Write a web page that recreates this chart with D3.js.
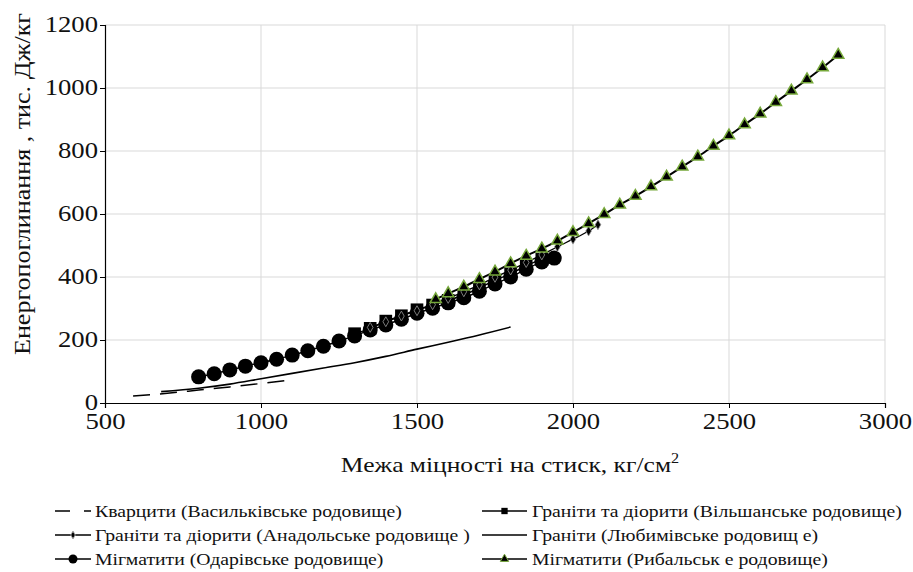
<!DOCTYPE html>
<html>
<head>
<meta charset="utf-8">
<script src="https://cdn.jsdelivr.net/npm/d3@7"></script>
</head>
<body style="margin:0; background:#fff">
<div id="container"></div>
<script>
// ------ Data ------
const xTicks = [500, 1000, 1500, 2000, 2500, 3000];
const yTicks = [0, 200, 400, 600, 800, 1000, 1200];

// Кварцити (Васильківське родовище)
const kvarcX = [590, 700, 800, 900, 1000, 1100];
const kvarcY = [22, 31, 41, 51, 62, 74];

// Граніти (Любимівське родовище)
const lubX = [680, 800, 900, 1000, 1100, 1200, 1300, 1400, 1500, 1600, 1700, 1800];
const lubY = [36, 47, 60, 77, 94, 111, 128, 148, 171, 193, 216, 241];

// Граніти та діорити (Вільшанське родовище)
const vilX = [1300, 1350, 1400, 1450, 1500, 1550, 1600, 1650, 1700, 1750, 1800, 1850, 1900];
const vilY = [220, 237, 260, 277, 296, 311, 326, 343, 365, 390, 410, 436, 456];

// Граніти та діорити (Анадольське родовище)
const anaX = [1350, 1400, 1450, 1500, 1550, 1600, 1650, 1700, 1750, 1800, 1850, 1900, 1950, 2000, 2050, 2080];
const anaY = [240, 258, 276, 293, 312, 332, 353, 375, 399, 422, 446, 470, 496, 520, 546, 566];

// Мігматити (Одарівське родовище)
const odaX = [800, 850, 900, 950, 1000, 1050, 1100, 1150, 1200, 1250, 1300, 1350, 1400, 1450, 1500, 1550, 1600, 1650, 1700, 1750, 1800, 1850, 1900, 1940];
const odaY = [83, 93, 105, 117, 128, 139, 152, 166, 180, 197, 213, 232, 248, 266, 285, 301, 318, 334, 355, 378, 400, 425, 448, 460];

// Мігматити (Рибальське родовище)
const rybX = [1560, 1600, 1650, 1700, 1750, 1800, 1850, 1900, 1950, 2000, 2050, 2100, 2150, 2200, 2250, 2300, 2350, 2400, 2450, 2500, 2550, 2600, 2650, 2700, 2750, 2800, 2850];
const rybY = [329, 348, 369, 393, 417, 443, 467, 490, 515, 542, 570, 599, 629, 657, 687, 718, 750, 782, 816, 849, 884, 918, 955, 991, 1027, 1065, 1105];

const legendNames = [
  "Кварцити (Васильківське родовище)",
  "Граніти та діорити (Вільшанське родовище)",
  "Граніти та діорити (Анадольське родовище )",
  "Граніти (Любимівське родовищ е)",
  "Мігматити (Одарівське родовище)",
  "Мігматити (Рибальськ е родовище)"
];

// ------ Setup ------
const width = 913, height = 572;
const FONT = 'Liberation Serif';
const STRETCH = 1.16;   // the original text is a bit wide
const svg = d3.select('#container').append('svg')
  .attr('width', width)
  .attr('height', height);

const x = d3.scaleLinear().domain([500, 3000]).range([105, 885]);
const y = d3.scaleLinear().domain([0, 1200]).range([403, 25]);

const zip = (xs, ys) => xs.map((v, i) => [v, ys[i]]);

// grid
svg.append('g').selectAll('line').data(yTicks.slice(1)).enter().append('line')
  .attr('x1', x(500)).attr('x2', x(3000))
  .attr('y1', d => y(d)).attr('y2', d => y(d))
  .attr('stroke', '#d9d9d9').attr('stroke-width', 1);
svg.append('g').selectAll('line').data(xTicks.slice(1)).enter().append('line')
  .attr('x1', d => x(d)).attr('x2', d => x(d))
  .attr('y1', y(0)).attr('y2', y(1200))
  .attr('stroke', '#d9d9d9').attr('stroke-width', 1);

// axes
const xAxis = svg.append('g')
  .attr('transform', `translate(0,${y(0)})`)
  .call(d3.axisBottom(x).tickValues(xTicks).tickSize(5).tickFormat(d3.format('d')));
const yAxis = svg.append('g')
  .attr('transform', `translate(${x(500)},0)`)
  .call(d3.axisLeft(y).tickValues(yTicks).tickSize(5).tickFormat(d3.format('d')));
[xAxis, yAxis].forEach(a => {
  a.select('.domain').attr('stroke', '#000').attr('stroke-width', 1.2);
  a.selectAll('.tick line').attr('stroke', '#000');
  a.selectAll('text').attr('font-size', 23).attr('fill', '#111')
    .attr('transform', `scale(${STRETCH},1)`);
});
xAxis.selectAll('text').attr('dy', '0.8em');
yAxis.selectAll('text').attr('x', -7 / STRETCH).attr('dy', '0.3em');

// axis titles
const xt = svg.append('text')
  .attr('transform', `translate(510,472) scale(${STRETCH},1)`)
  .attr('text-anchor', 'middle')
  .attr('font-size', 22).attr('fill', '#111');
xt.append('tspan').text('Межа міцності  на стиск, кг/см');
xt.append('tspan').attr('dy', -9).attr('font-size', 14).text('2');

svg.append('text')
  .attr('transform', 'translate(30,184) rotate(-90)')
  .attr('text-anchor', 'middle')
  .attr('font-size', 24).attr('fill', '#111')
  .attr('textLength', 342).attr('lengthAdjust', 'spacingAndGlyphs')
  .text('Енергопоглинання ,  тис.  Дж/кг');

// ------ Series ------
const line = d3.line().x(d => x(d[0])).y(d => y(d[1])).curve(d3.curveMonotoneX);

const plot = svg.append('g');

plot.append('path').datum(zip(lubX, lubY))
  .attr('d', line).attr('fill', 'none').attr('stroke', '#000').attr('stroke-width', 1.6);

plot.append('path').datum(zip(kvarcX, kvarcY))
  .attr('d', line).attr('fill', 'none').attr('stroke', '#000').attr('stroke-width', 1.5)
  .attr('stroke-dasharray', '17,10');

// Вільшанське
plot.append('path').datum(zip(vilX, vilY))
  .attr('d', line).attr('fill', 'none').attr('stroke', '#000').attr('stroke-width', 1.5);
plot.append('g').selectAll('path').data(zip(vilX, vilY)).enter().append('path')
  .attr('transform', d => `translate(${x(d[0])},${y(d[1])})`)
  .attr('d', d3.symbol().type(d3.symbolSquare).size(160))
  .attr('fill', '#000');

// Одарівське
plot.append('path').datum(zip(odaX, odaY))
  .attr('d', line).attr('fill', 'none').attr('stroke', '#000').attr('stroke-width', 1.5);
plot.append('g').selectAll('circle').data(zip(odaX, odaY)).enter().append('circle')
  .attr('cx', d => x(d[0])).attr('cy', d => y(d[1])).attr('r', 7.5)
  .attr('fill', '#000');

// Анадольське
plot.append('path').datum(zip(anaX, anaY))
  .attr('d', line).attr('fill', 'none').attr('stroke', '#000').attr('stroke-width', 1.3);
plot.append('g').selectAll('path').data(zip(anaX, anaY)).enter().append('path')
  .attr('transform', d => `translate(${x(d[0])},${y(d[1])})`)
  .attr('d', d3.symbol().type(d3.symbolDiamond).size(28))
  .attr('fill', '#000').attr('stroke', '#999').attr('stroke-width', 0.8);

// Рибальське
plot.append('path').datum(zip(rybX, rybY))
  .attr('d', line).attr('fill', 'none').attr('stroke', '#000').attr('stroke-width', 2);
plot.append('g').selectAll('path').data(zip(rybX, rybY)).enter().append('path')
  .attr('transform', d => `translate(${x(d[0])},${y(d[1])})`)
  .attr('d', d3.symbol().type(d3.symbolTriangle).size(55))
  .attr('fill', '#000').attr('stroke', '#76a83a').attr('stroke-width', 1.5);

// ------ Legend ------
const legendCols = [{ line: 55, len: 36, text: 95 }, { line: 482, len: 45, text: 532 }];
const legendRows = [511, 535, 559];
const legend = svg.append('g');
legendNames.forEach((name, i) => {
  const col = legendCols[i % 2], ly = legendRows[Math.floor(i / 2)];
  const g = legend.append('g').attr('transform', `translate(${col.line},${ly})`);
  const mid = col.len / 2;
  const l = g.append('line').attr('x1', 0).attr('x2', col.len).attr('y1', 0).attr('y2', 0)
    .attr('stroke', '#000').attr('stroke-width', 1.4);
  if (i === 0) l.attr('stroke-dasharray', '15,14,7');
  if (i === 1) g.append('path').attr('transform', `translate(${mid},0)`)
    .attr('d', d3.symbol().type(d3.symbolSquare).size(40)).attr('fill', '#000');
  if (i === 2) g.append('path').attr('transform', `translate(${mid},0)`)
    .attr('d', d3.symbol().type(d3.symbolDiamond).size(18)).attr('fill', '#000').attr('stroke', '#aaa');
  if (i === 4) g.append('circle').attr('cx', mid).attr('r', 4.5).attr('fill', '#000');
  if (i === 5) g.append('path').attr('transform', `translate(${mid},0)`)
    .attr('d', d3.symbol().type(d3.symbolTriangle).size(30)).attr('fill', '#000').attr('stroke', '#76a83a');
  g.append('text')
    .attr('transform', `translate(${col.text - col.line},6) scale(${STRETCH},1)`)
    .attr('font-size', 17).attr('fill', '#111').text(name);
});

// put the font on every text itself
svg.selectAll('g').attr('font-family', null);
svg.selectAll('text').attr('font-family', FONT).style('font-family', FONT);
svg.selectAll('tspan').attr('font-family', FONT).style('font-family', FONT);
</script>
</body>
</html>
